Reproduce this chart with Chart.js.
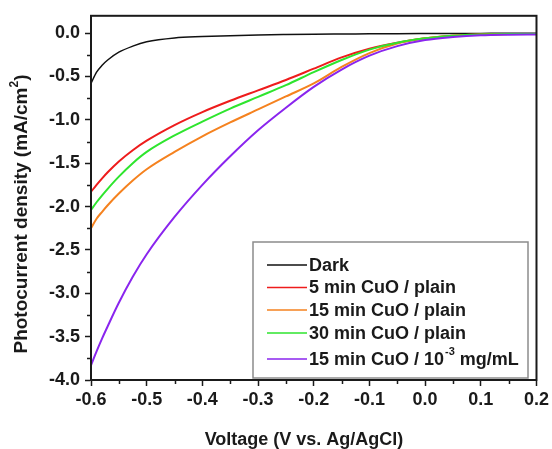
<!DOCTYPE html>
<html>
<head>
<meta charset="utf-8">
<script src="https://cdn.jsdelivr.net/npm/chart.js@4.4.0/dist/chart.umd.min.js"></script>
<style>
  html, body { margin: 0; padding: 0; background: #fff; }
  #wrap { width: 552px; height: 449px; }
</style>
</head>
<body>
<div id="wrap"><canvas id="my-chart" width="552" height="449"></canvas></div>
<script>
// applied potential (V vs. Ag/AgCl)
const voltage = [-0.6, -0.59, -0.58, -0.57, -0.55, -0.525, -0.5, -0.45, -0.4, -0.35, -0.3,
                 -0.25, -0.2, -0.15, -0.1, -0.05, 0, 0.05, 0.1, 0.15, 0.2];

// photocurrent density (mA/cm2)
const dark       = [-0.58, -0.45, -0.37, -0.31, -0.22, -0.15, -0.10, -0.055, -0.04, -0.03, -0.02,
                    -0.015, -0.012, -0.01, -0.008, -0.006, -0.005, -0.004, -0.003, -0.002, -0.002];
const cuo5Plain  = [-1.83, -1.75, -1.675, -1.605, -1.48, -1.35, -1.24, -1.06, -0.91, -0.78, -0.66,
                    -0.54, -0.41, -0.28, -0.18, -0.11, -0.06, -0.03, -0.015, -0.01, -0.01];
const cuo15Plain = [-2.25, -2.14, -2.06, -1.985, -1.85, -1.70, -1.57, -1.37, -1.19, -1.03, -0.88,
                    -0.73, -0.58, -0.39, -0.23, -0.12, -0.06, -0.03, -0.015, -0.01, -0.01];
const cuo30Plain = [-2.04, -1.95, -1.87, -1.795, -1.655, -1.50, -1.37, -1.18, -1.02, -0.87, -0.735,
                    -0.60, -0.45, -0.31, -0.19, -0.11, -0.06, -0.03, -0.015, -0.01, -0.01];
const cuo15Conc  = [-3.83, -3.67, -3.52, -3.38, -3.11, -2.81, -2.55, -2.12, -1.75, -1.42, -1.12,
                    -0.86, -0.62, -0.42, -0.26, -0.15, -0.08, -0.045, -0.025, -0.018, -0.015];

const seriesNames  = ['Dark', '5 min CuO / plain', '15 min CuO / plain', '30 min CuO / plain', '15 min CuO / 10^-3 mg/mL'];
const seriesValues = [dark, cuo5Plain, cuo15Plain, cuo30Plain, cuo15Conc];
const seriesColors = ['#111111', '#ee1c1c', '#f5821f', '#2ee52e', '#8a25ee'];
const seriesOrder  = [4, 3, 2, 1, 0];

const xTitle = 'Voltage (V vs. Ag/AgCl)';
const yTitle = ['Photocurrent density (mA/cm', '2', ')'];

const FONT = '"Liberation Sans", Arial, sans-serif';
const INK = '#1a1a1a';

// frame around plot, minor ticks, axis titles
const frame = {
  id: 'frame',
  afterDatasetsDraw(chart) {
    const { ctx, chartArea: a, scales } = chart;
    ctx.save();
    ctx.strokeStyle = INK;
    ctx.lineWidth = 1.5;
    for (let v = -0.55; v < 0.2; v += 0.1) {
      const px = Math.round(scales.x.getPixelForValue(v)) + 0.5;
      ctx.beginPath(); ctx.moveTo(px, a.bottom); ctx.lineTo(px, a.bottom + 4); ctx.stroke();
    }
    for (let v = -3.75; v < 0.2; v += 0.5) {
      const py = Math.round(scales.y.getPixelForValue(v)) + 0.5;
      ctx.beginPath(); ctx.moveTo(a.left, py); ctx.lineTo(a.left - 4, py); ctx.stroke();
    }
    ctx.lineWidth = 2;
    ctx.strokeRect(a.left, a.top, a.right - a.left, a.bottom - a.top);

    ctx.fillStyle = INK;
    ctx.textBaseline = 'middle';
    ctx.textAlign = 'center';
    ctx.font = 'bold 18px ' + FONT;
    ctx.fillText(xTitle, 304, 440);

    ctx.translate(22, 214);
    ctx.rotate(-Math.PI / 2);
    ctx.font = 'bold 19px ' + FONT;
    const big = ctx.measureText(yTitle[0]).width + ctx.measureText(yTitle[2]).width;
    ctx.font = 'bold 12px ' + FONT;
    const sup = ctx.measureText(yTitle[1]).width;
    let x = -(big + sup) / 2;
    ctx.textAlign = 'left';
    ctx.font = 'bold 19px ' + FONT;
    ctx.fillText(yTitle[0], x, 0);
    x += ctx.measureText(yTitle[0]).width;
    ctx.font = 'bold 12px ' + FONT;
    ctx.fillText(yTitle[1], x, -7);
    x += sup;
    ctx.font = 'bold 19px ' + FONT;
    ctx.fillText(yTitle[2], x, 0);
    ctx.restore();
  }
};

const legendBox = {
  id: 'legendBox',
  afterDraw(chart) {
    const ctx = chart.ctx;
    ctx.save();
    const x0 = 253, y0 = 242, w = 275, h = 136;
    ctx.fillStyle = '#fff';
    ctx.fillRect(x0, y0, w, h);
    ctx.strokeStyle = '#8c8c8c';
    ctx.lineWidth = 1.5;
    ctx.strokeRect(x0, y0, w, h);
    const rows = [265, 287.5, 310, 333, 359];
    ctx.textBaseline = 'middle';
    chart.data.datasets.forEach((ds, i) => {
      const y = rows[i];
      ctx.strokeStyle = ds.borderColor;
      ctx.lineWidth = 1.5;
      ctx.beginPath(); ctx.moveTo(267, y); ctx.lineTo(307, y); ctx.stroke();
      ctx.fillStyle = INK;
      ctx.font = 'bold 18px ' + FONT;
      const m = ds.label.match(/^(.*?)\^(\S+)(.*)$/);
      if (!m) {
        ctx.fillText(ds.label, 309, y + 1);
      } else {
        let x = 309;
        ctx.fillText(m[1], x, y + 1);
        x += ctx.measureText(m[1]).width;
        ctx.font = 'bold 11px ' + FONT;
        ctx.fillText(m[2], x + 1, y - 7);
        x += ctx.measureText(m[2]).width + 1;
        ctx.font = 'bold 18px ' + FONT;
        ctx.fillText(m[3], x, y + 1);
      }
    });
    ctx.restore();
  }
};

const ctx = document.getElementById('my-chart').getContext('2d');

const myChart = new Chart(ctx, {
  type: 'line',
  data: {
    datasets: seriesNames.map((name, i) => ({
      label: name,
      data: voltage.map((v, k) => ({ x: v, y: seriesValues[i][k] })),
      borderColor: seriesColors[i],
      borderWidth: i === 0 ? 1.5 : 2,
      pointRadius: 0,
      fill: false,
      cubicInterpolationMode: 'monotone',
      order: seriesOrder[i]
    }))
  },
  options: {
    responsive: false,
    animation: false,
    layout: { padding: { top: 14, right: 14, left: 0, bottom: 0 } },
    plugins: {
      legend: { display: false },
      tooltip: { enabled: false }
    },
    scales: {
      x: {
        type: 'linear',
        min: -0.6,
        max: 0.2,
        afterFit: s => { s.height = 69; },
        ticks: {
          stepSize: 0.1,
          callback: v => v.toFixed(1),
          color: INK,
          font: { family: FONT, size: 18, weight: 'bold' },
          padding: 3,
          maxRotation: 0
        },
        grid: { drawOnChartArea: false, tickLength: 6, tickWidth: 1.5, color: INK },
        border: { display: true, color: INK, width: 2 }
      },
      y: {
        min: -4,
        max: 0.2,
        afterFit: s => { s.width = 91; },
        ticks: {
          stepSize: 0.5,
          includeBounds: false,
          callback: v => v.toFixed(1),
          color: INK,
          font: { family: FONT, size: 18, weight: 'bold' },
          padding: 5
        },
        grid: { drawOnChartArea: false, tickLength: 6, tickWidth: 1.5, color: INK },
        border: { display: true, color: INK, width: 2 }
      }
    }
  },
  plugins: [frame, legendBox]
});
</script>
</body>
</html>
